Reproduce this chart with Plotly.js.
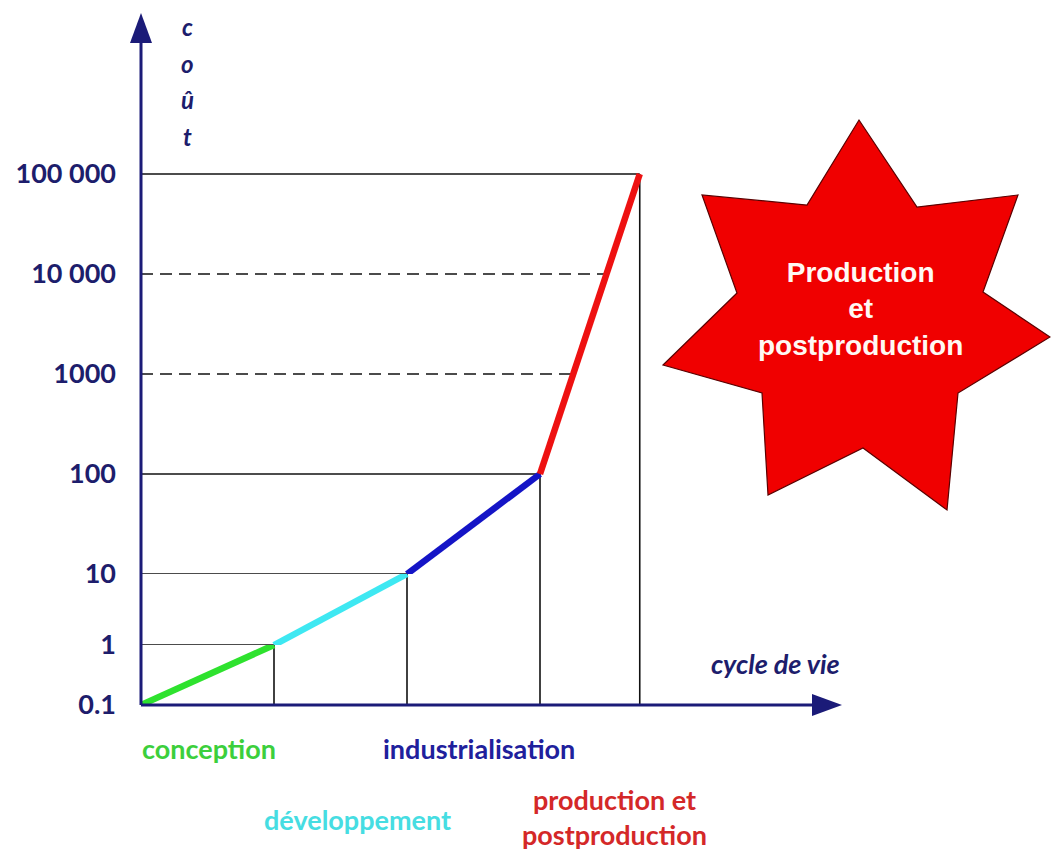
<!DOCTYPE html>
<html>
<head>
<meta charset="utf-8">
<script src="https://cdn.plot.ly/plotly-3.0.1.min.js"></script>
<style>html,body{margin:0;padding:0;background:#fff;}#chart{width:1051px;height:852px;}</style>
</head>
<body>
<div id="chart"></div>
<script>
// ---- data ----
const phases = ['conception', 'développement', 'industrialisation', 'production et<br>postproduction'];
const phaseColors = ['#2ee22e', '#3ee8f2', '#1414c6', '#ee1111'];
const labelColors = ['#3ccf3c', '#46dde2', '#20209c', '#d42828'];
const lifeCycle = [0, 1, 2, 3, 3.75];          // end of each phase on the life-cycle axis
const cost = [0.1, 1, 10, 100, 100000];        // cost reached at each phase end
const costTicks = [0.1, 1, 10, 100, 1000, 10000, 100000];
const costTickText = ['0.1', '1', '10', '100', '1000', '10 000', '100 000'];
const xTitle = 'cycle de vie';
const yTitle = 'coût';
const starText = 'Production<br>et<br>postproduction';

// ---- geometry helpers (plot area in pixels) ----
const W = 1051, H = 852;
const L = 141, R = 842, T = 13, B = 705;
const pw = R - L, ph = B - T;
const px = x => (x - L) / pw;
const py = y => (B - y) / ph;
const navy = '#1b1b78';
const textNavy = '#1d1d6c';

// the schematic cost axis is drawn in three log bands
const bands = [
  {ax: 'y',  lo: 0.1, hi: 1,   top: 645},
  {ax: 'y2', lo: 1,   hi: 10,  top: 574},
  {ax: 'y3', lo: 10,  hi: Infinity, top: T}
];
const lg = Math.log10;

function pieces(x0, c0, x1, c1) {
  const out = [];
  const a = lg(c0), b = lg(c1);
  const mn = Math.min(a, b), mx = Math.max(a, b);
  bands.forEach(bd => {
    const lo = Math.max(mn, lg(bd.lo)), hi = Math.min(mx, lg(bd.hi));
    if (hi - lo > 1e-9) {
      const pts = [lo, hi].map(v => {
        const t = (b === a) ? 0 : (v - a) / (b - a);
        return [x0 + t * (x1 - x0), Math.pow(10, v)];
      });
      out.push({ax: bd.ax, xs: pts.map(p => p[0]), ys: pts.map(p => p[1])});
    }
  });
  return out;
}
function bandOf(v) {
  for (const bd of bands) if (v >= bd.lo && v < bd.hi) return bd.ax;
  return 'y3';
}
function curveX(v) {
  for (let i = 0; i < cost.length - 1; i++) {
    if (v >= cost[i] && v <= cost[i + 1]) {
      const t = (lg(v) - lg(cost[i])) / (lg(cost[i + 1]) - lg(cost[i]));
      return lifeCycle[i] + t * (lifeCycle[i + 1] - lifeCycle[i]);
    }
  }
  return lifeCycle[lifeCycle.length - 1];
}

const traces = [];
// horizontal reference lines
costTicks.forEach(v => {
  if (v === cost[0]) return;
  const dashed = cost.indexOf(v) < 0;
  traces.push({
    x: [0, curveX(v)], y: [v, v], yaxis: bandOf(v), mode: 'lines', hoverinfo: 'skip',
    line: {color: '#111', width: 1.6, dash: dashed ? '12px,7px' : 'solid'}
  });
});
// vertical lines down to the axis
for (let i = 1; i < cost.length; i++) {
  pieces(lifeCycle[i], cost[i], lifeCycle[i], cost[0]).forEach(p => {
    traces.push({x: p.xs, y: p.ys, yaxis: p.ax, mode: 'lines', hoverinfo: 'skip',
      line: {color: '#111', width: 1.6}});
  });
}
// coloured cost curve per phase
for (let i = 0; i < phases.length; i++) {
  pieces(lifeCycle[i], cost[i], lifeCycle[i + 1], cost[i + 1]).forEach(p => {
    traces.push({x: p.xs, y: p.ys, yaxis: p.ax, mode: 'lines', name: phases[i],
      line: {color: phaseColors[i], width: 6.5}});
  });
}

const xPerPx = 1 / 133;
const tickFont = {family: 'Lato', size: 27, weight: 'bold', color: textNavy};
function yAx(bi, prevTop) {
  const bd = bands[bi];
  const lo = lg(bd.lo);
  const hi = bd.hi === Infinity ? lo + (prevTop - T) / 100 : lg(bd.hi);
  const tv = costTicks.filter(v => bandOf(v) === bd.ax);
  return {
    type: 'log', anchor: 'x', domain: [py(prevTop), py(bd.top)],
    range: [lo - (bi === 0 ? 0.001 : 0), hi],
    tickvals: tv, ticktext: tv.map(v => costTickText[costTicks.indexOf(v)]),
    showgrid: false, zeroline: false, showline: false, ticks: '',
    tickfont: tickFont, ticklabelstandoff: 24, fixedrange: true
  };
}

const starPts = [[859,120],[917,207],[1018,195],[983,292],[1050,337],[958,393],[947,510],
  [863,448],[768,495],[762,393],[663,365],[737,293],[702,195],[807,205]];
const starPath = 'M' + starPts.map(p => px(p[0]).toFixed(5) + ',' + py(p[1]).toFixed(5)).join(' L') + ' Z';

const labelFont = (c) => ({family: 'Lato', size: 27, weight: 'bold', color: c});
const phaseLabelPos = [[209, 748], [357, 819], [479, 748], [614, 817]];

const annotations = phases.map((p, i) => ({
  xref: 'paper', yref: 'paper', x: px(phaseLabelPos[i][0]), y: py(phaseLabelPos[i][1]),
  xanchor: 'center', yanchor: 'middle', text: p, showarrow: false, font: labelFont(labelColors[i])
}));
annotations.push({xref: 'paper', yref: 'paper', x: px(842), y: py(663), xanchor: 'right', yanchor: 'middle',
  text: xTitle, showarrow: false, font: {family: 'Lato', size: 27, weight: 'bold', style: 'italic', color: textNavy}});
[...yTitle].forEach((ch, i) => annotations.push({
  xref: 'paper', yref: 'paper', x: px(187), y: py(27 + 36.5 * i), xanchor: 'center', yanchor: 'middle',
  text: ch, showarrow: false, font: {family: 'Lato', size: 24, weight: 'bold', style: 'italic', color: textNavy}
}));
annotations.push({xref: 'paper', yref: 'paper', x: px(860), y: py(309), xanchor: 'center', yanchor: 'middle',
  text: starText, showarrow: false,
  font: {family: 'Liberation Sans, Arial', size: 28, weight: 'bold', color: '#fff8f4'}});

const shapes = [
  {type: 'line', xref: 'paper', yref: 'paper', x0: 0, y0: 0, x1: 0, y1: py(40), line: {color: navy, width: 3}},
  {type: 'path', xref: 'paper', yref: 'paper',
    path: `M${px(L - 11)},${py(43)} L${px(L)},${py(13)} L${px(L + 11)},${py(43)} Z`,
    fillcolor: navy, line: {width: 0}},
  {type: 'line', xref: 'paper', yref: 'paper', x0: 0, y0: 0, x1: px(815), y1: 0, line: {color: navy, width: 3}},
  {type: 'path', xref: 'paper', yref: 'paper',
    path: `M${px(812)},${py(694)} L${px(R)},${py(B)} L${px(812)},${py(716)} Z`,
    fillcolor: navy, line: {width: 0}},
  {type: 'path', xref: 'paper', yref: 'paper', path: starPath, fillcolor: '#f00000',
    line: {color: '#5a0000', width: 1.2}}
];

const layout = {
  width: W, height: H, autosize: false, showlegend: false,
  margin: {l: L, r: W - R, t: T, b: H - B, pad: 0},
  paper_bgcolor: '#fff', plot_bgcolor: 'rgba(0,0,0,0)',
  xaxis: {range: [0, pw * xPerPx], visible: false, fixedrange: true},
  yaxis: yAx(0, B), yaxis2: yAx(1, 645), yaxis3: yAx(2, 574),
  annotations: annotations, shapes: shapes
};
Plotly.newPlot('chart', traces, layout, {displayModeBar: false, staticPlot: true});
</script>
</body>
</html>
